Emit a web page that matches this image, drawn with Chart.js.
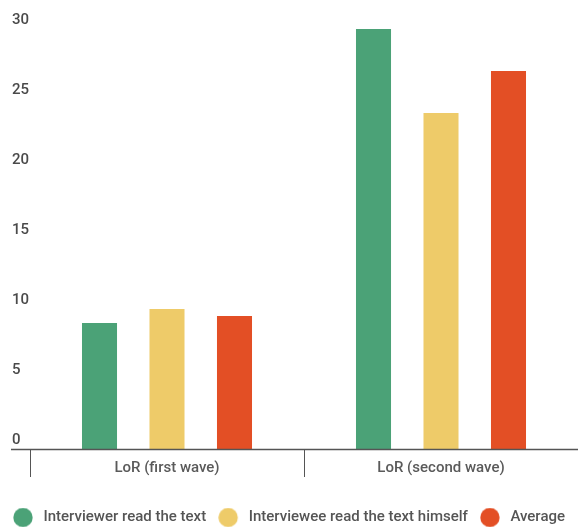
<!DOCTYPE html>
<html>
<head>
<meta charset="utf-8">
<script src="https://cdn.jsdelivr.net/npm/chart.js@4/dist/chart.umd.min.js"></script>
<style>
html,body{margin:0;padding:0;background:#fff;}
#wrap{width:578px;height:527px;position:relative;}
</style>
</head>
<body>
<div id="wrap"><canvas id="c"></canvas></div>
<script>
const categories = ["LoR (first wave)", "LoR (second wave)"];
const seriesNames = ["Interviewer read the text", "Interviewee read the text himself", "Average"];
const interviewerValues = [9, 30];
const intervieweeValues = [10, 24];
const averageValues = [9.5, 27];
const yTicks = [0, 5, 10, 15, 20, 25, 30];
const colors = ["#4ba277", "#eecb69", "#e34f25"];

function makeIcon(color){
  const cv = document.createElement('canvas');
  cv.width = 23; cv.height = 20;
  const cx = cv.getContext('2d');
  cx.fillStyle = color;
  cx.beginPath(); cx.arc(10, 10, 9.7, 0, Math.PI*2); cx.fill();
  return cv;
}
const icons = colors.map(makeIcon);

const axisPlugin = {
  id: 'axisDecor',
  afterLayout(chart){
    // keep y tick labels left-aligned at x=12
    chart.scales.y.left = 12;
  },
  afterDraw(chart){
    const ctx = chart.ctx, a = chart.chartArea;
    const xs = chart.scales.x;
    const n = xs.ticks.length;
    const catW = (a.right - a.left) / n;
    ctx.save();
    ctx.strokeStyle = '#555';
    ctx.lineWidth = 1;
    for (let k = 0; k <= n; k++) {
      const x = Math.round(a.left + k * catW) + 0.5;
      ctx.beginPath();
      ctx.moveTo(x, a.bottom);
      ctx.lineTo(x, a.bottom + 28);
      ctx.stroke();
    }
    ctx.lineWidth = 1.5;
    ctx.beginPath();
    ctx.moveTo(11, a.bottom + 0.5);
    ctx.lineTo(chart.width, a.bottom + 0.5);
    ctx.stroke();
    ctx.restore();
  }
};

const font = "Roboto";
new Chart(document.getElementById('c'), {
  type: 'bar',
  data: {
    labels: categories,
    datasets: [
      {label: seriesNames[0], data: interviewerValues, backgroundColor: colors[0]},
      {label: seriesNames[1], data: intervieweeValues, backgroundColor: colors[1]},
      {label: seriesNames[2], data: averageValues, backgroundColor: colors[2]}
    ]
  },
  options: {
    responsive: true,
    maintainAspectRatio: false,
    animation: false,
    categoryPercentage: 0.739,
    barPercentage: 0.519,
    layout: {padding: {left: 0, top: 29, right: 0, bottom: -8}},
    plugins: {
      tooltip: {enabled: false},
      legend: {
        position: 'bottom',
        labels: {
          usePointStyle: true,
          pointStyleWidth: 23,
          boxHeight: 15,
          padding: 12,
          color: '#555',
          font: {family: font, size: 15, weight: '500'},
          generateLabels(chart){
            const items = Chart.defaults.plugins.legend.labels.generateLabels(chart);
            items.forEach((it, i) => { it.pointStyle = icons[i]; });
            return items;
          }
        }
      }
    },
    scales: {
      x: {
        grid: {display: false, drawTicks: false},
        border: {display: false},
        ticks: {color: '#5a5a5a', font: {family: font, size: 15, weight: '500'}, padding: 10, maxRotation: 0, autoSkip: false},
        afterFit(scale){ scale.height = 49; }
      },
      y: {
        min: 0, max: 30,
        afterBuildTicks(scale){ scale.ticks = yTicks.map(v => ({value: v})); },
        grid: {display: false, drawTicks: false},
        border: {display: false},
        ticks: {color: '#4a4a4a', font: {family: font, size: 15, weight: '500'}, crossAlign: 'far', padding: 2, labelOffset: -9},
        afterFit(scale){ scale.width = 30; }
      }
    }
  },
  plugins: [axisPlugin]
});
</script>
</body>
</html>
